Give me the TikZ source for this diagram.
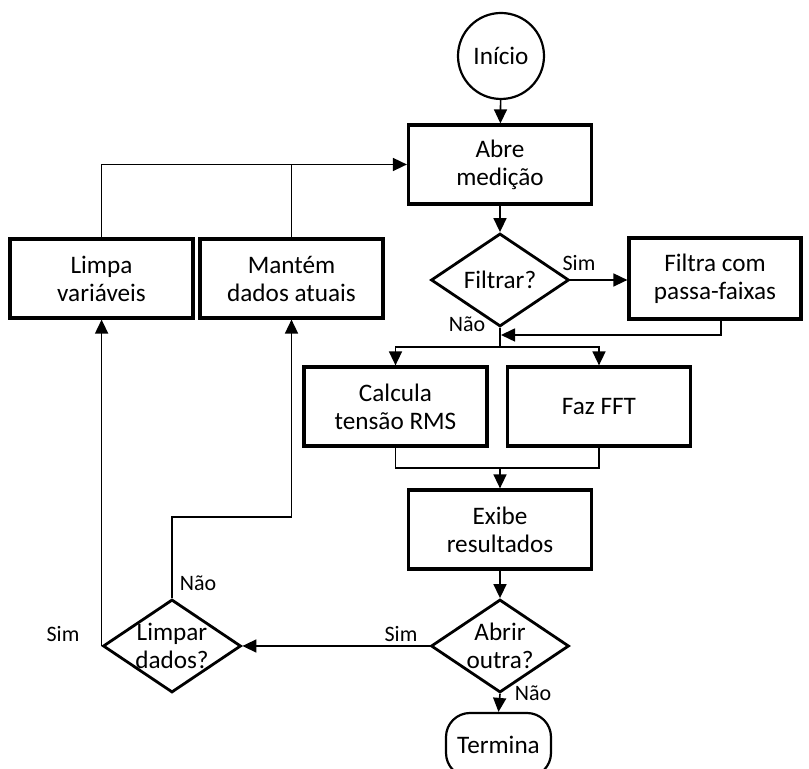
\documentclass[tikz,border=0pt]{standalone}
\usepackage{fontspec}
\setmainfont{Carlito}
\usetikzlibrary{shapes.geometric,arrows.meta}

\begin{document}
\begin{tikzpicture}[x=0.5pt,y=0.5pt,
    every node/.style={font=\fontsize{12.6}{14}\selectfont},
    proc/.style={draw,line width=1.6pt,minimum width=91.5pt,minimum height=39.5pt,align=center,inner sep=0pt},
    decis/.style={draw,diamond,line width=1.4pt,minimum width=69pt,minimum height=46.5pt,inner sep=0pt},
    lbl/.style={font=\fontsize{11}{12}\selectfont},
    arr/.style={-{Triangle[length=7pt,width=6.5pt]},line width=0.8pt},
    lin/.style={line width=0.8pt}]
    \useasboundingbox (0,0) rectangle (809,769);
    \clip (0,0) rectangle (809,769);
    % blocks
    \node[draw,circle,line width=1.1pt,minimum size=43pt,inner sep=0pt] (inicio) at (501,713) {Início};
    \node[proc] (abre) at (500,604.5) {Abre\\medição};
    \node[decis,label={[align=center]center:Filtrar?}] (filtrar) at (500,489) {};
    \node[proc,minimum width=86pt,minimum height=40.5pt] (filtra) at (715,490.5) {Filtra com\\passa-faixas};
    \node[proc] (calcula) at (395.5,362.5) {Calcula\\tensão RMS};
    \node[proc] (fft) at (599,362.5) {Faz FFT};
    \node[proc] (exibe) at (500,239.5) {Exibe\\resultados};
    \node[decis,label={[align=center]center:Abrir\\outra?}] (abrir) at (500,123) {};
    \node[decis,label={[align=center]center:Limpar\\dados?}] (limpar) at (172,123) {};
    \node[draw,line width=1.1pt,rounded corners=12pt,minimum width=52.5pt,minimum height=32pt] (termina) at (498.5,24) {Termina};
    \node[proc] (limpa) at (101.5,490.5) {Limpa\\variáveis};
    \node[proc] (mantem) at (291.5,490.5) {Mantém\\dados atuais};
    \coordinate (split) at (500,422);
    \coordinate (merge) at (500,301);
    \coordinate (rejoin) at (501,434);
    \coordinate (bend) at (172,252);
    % connectors
    \draw[arr] (inicio) -- (abre);
    \draw[arr] (abre) -- (filtrar);
    \draw[arr] (filtrar.east) -- (filtrar.east -| filtra.west);
    \draw[lin] (filtrar.south) -- (split);
    \draw[arr] ([xshift=3pt]filtra.south) |- (rejoin);
    \draw[arr] (split) -| (calcula.north);
    \draw[arr] (split) -| (fft.north);
    \draw[lin] (calcula.south) |- (merge) -| (fft.south);
    \draw[arr] (merge) -- (exibe.north);
    \draw[arr] (exibe) -- (abrir);
    \draw[arr] (abrir.west) -- (limpar.east);
    \draw[arr] (abrir.south) -- (termina.north);
    \draw[arr] (limpar.west) -- (limpar.west |- limpa.south);
    \draw[arr] (limpar.north) -- (bend) -| (mantem.south);
    \draw[arr] (limpa.north) |- (abre.west);
    \draw[lin] (mantem.north) -- (mantem.north |- abre.west);
    % labels
    \node[lbl] (simfiltro) at (579,506) {Sim};
    \node[lbl] (naofiltro) at (467,445) {Não};
    \node[lbl] (simabrir) at (401,135) {Sim};
    \node[lbl] (naoabrir) at (533,76) {Não};
    \node[lbl] (simlimpar) at (63,135) {Sim};
    \node[lbl] (naolimpar) at (198,186) {Não};
\end{tikzpicture}
\end{document}
